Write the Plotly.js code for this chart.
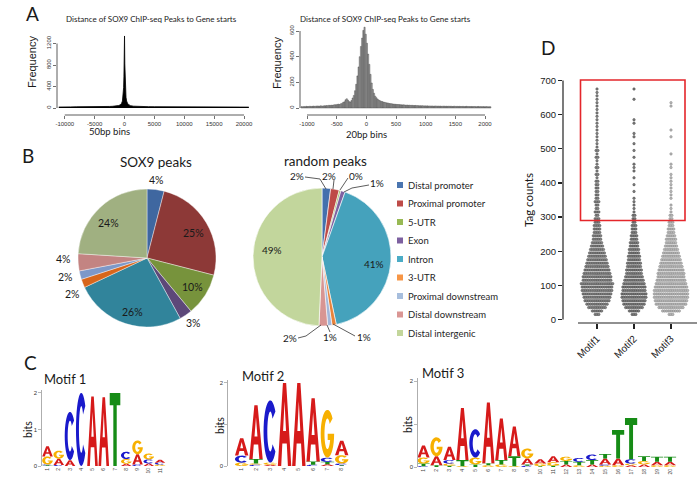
<!DOCTYPE html>
<html><head><meta charset="utf-8">
<script src="https://cdn.plot.ly/plotly-3.0.1.min.js"></script>
<style>html,body{margin:0;padding:0;background:#fff}#chart{width:697px;height:477px}</style>
</head><body><div id="chart"></div>
<script>
const W = 697, H = 477;
const px = x => x / W, py = y => 1 - y / H;

// ---------- Panel A data ----------
const tssX50 = [-11000,-10500,-10000,-9500,-9000,-8000,-7000,-6000,-5000,-4000,-3000,-2500,-2000,-1500,-1000,-750,-500,-350,-250,-150,-100,-50,0,50,100,150,250,350,500,750,1000,1500,2000,3000,4000,5000,6000,7000,8000,9000,10000,11000,12000,13000,14000,15000,16000,17000,18000,19000,20000,20800];
const tssFreq50 = [18,22,20,24,21,23,22,25,24,26,27,29,32,36,45,58,85,130,210,380,580,880,1340,820,530,340,200,130,88,58,44,34,30,27,25,24,23,22,24,21,22,20,21,22,19,21,20,19,20,18,19,17];
const bin20Start = -1090, bin20Width = 20;
const tssFreq20 = [
 11,9,12,10,13,11,12,14,12,13,15,13,14,16,15,14,17,16,15,18,17,19,18,21,20,
 22,21,24,26,25,28,30,27,33,36,
 44,48,64,72,62,50,47,58,78,98,
 135,185,250,320,400,480,545,605,630,575,
 505,420,340,262,195,145,115,92,80,70,
 62,57,52,50,46,44,41,40,38,35,
 34,33,31,30,29,28,27,27,26,25,
 24,25,23,22,23,21,22,20,21,20,
 19,20,18,19,17,18,17,18,16,17,
 16,17,15,16,15,16,14,15,16,14,
 15,14,15,13,14,15,13,14,13,14,
 13,14,12,13,14,12,13,12,13,12,
 12,13,11,12,13,11,12,11,12,11,
 11,12,10,11,12,10,11,10,11,10,
 10,11,9,10,10];
const ticks50 = [-10000,-5000,0,5000,10000,15000,20000];
const ticks20 = [-1000,-500,0,500,1000,1500,2000];

// ---------- Panel B data ----------
const regionLabels = ['Distal promoter','Proximal promoter','5-UTR','Exon','Intron','3-UTR','Proximal downstream','Distal downstream','Distal intergenic'];
const sox9Share = [4,25,10,3,26,2,2,4,24];
const randomShare = [2,2,0.4,1,41,1,1,2,49];
const sox9Colors = ['#3F67A0','#8D3937','#77933C','#5D4879','#31849B','#D8661B','#7D98C8','#C38482','#A0B081'];
const randomColors = ['#4470AD','#BE4A47','#9BBB59','#7E62A1','#45A2BC','#E9833A','#A3B7DA','#D89593','#C2D69C'];
const legendColors = ['#4A75B0','#BE4B48','#98B954','#7D60A0','#4BACC6','#F79646','#A7BEDD','#DA9694','#C3D69B'];

// ---------- Panel C data (stacks bottom -> top, bits) ----------
const motif1 = [
 [['T',0.02],['C',0.02],['G',0.22],['A',0.28]],
 [['C',0.03],['A',0.17],['G',0.22]],
 [['A',0.16],['C',1.32]],
 [['C',2.0]],
 [['A',1.9]],
 [['A',1.88]],
 [['T',2.0]],
 [['A',0.06],['G',0.13],['C',0.2]],
 [['C',0.04],['A',0.28],['G',0.38]],
 [['A',0.07],['C',0.11],['G',0.16]],
 [['G',0.04],['C',0.05],['A',0.08]]
];
const motif2 = [
 [['G',0.08],['C',0.17],['A',0.42]],
 [['C',0.03],['G',0.03],['T',0.11],['A',1.29]],
 [['A',0.03],['G',0.05],['C',1.5]],
 [['A',2.0]],
 [['A',2.0]],
 [['C',0.03],['T',0.08],['A',1.52]],
 [['A',0.04],['T',0.06],['C',0.1],['G',1.15]],
 [['T',0.02],['C',0.04],['G',0.2],['A',0.35]]
];
const motif3 = [
 [['C',0.02],['T',0.06],['G',0.14],['A',0.28]],
 [['T',0.04],['A',0.21],['G',0.44]],
 [['T',0.03],['G',0.05],['C',0.08],['A',0.31]],
 [['G',0.02],['T',0.14],['A',1.21]],
 [['T',0.06],['G',0.16],['C',0.66]],
 [['G',0.04],['T',0.05],['A',1.41]],
 [['G',0.06],['T',0.1],['A',0.97]],
 [['G',0.02],['T',0.23],['A',0.69]],
 [['C',0.03],['T',0.03],['A',0.14],['G',0.23]],
 [['T',0.02],['G',0.06],['A',0.1]],
 [['T',0.03],['G',0.08],['A',0.14]],
 [['A',0.06],['T',0.08],['G',0.1]],
 [['G',0.04],['T',0.08],['C',0.09]],
 [['A',0.06],['T',0.1],['C',0.13]],
 [['G',0.03],['C',0.03],['A',0.14],['T',0.1]],
 [['G',0.04],['A',0.16],['T',0.66]],
 [['A',0.04],['G',0.04],['C',0.1],['T',0.96]],
 [['A',0.06],['G',0.08],['T',0.11]],
 [['G',0.04],['A',0.08],['T',0.12]],
 [['G',0.04],['A',0.08],['T',0.12]]
];

// ---------- Panel D data (points per 10-tag bin) ----------
const tagBins = [15,25,35,45,55,65,75,85,95,105,115,125,135,145,155,165,175,185,195,205,215,225,235,245,255,265,275,285,295,305,315,325,335,345,355,365,375,385,395,405,415,425,435,445,455,465,475,485,495,505,515,525,535,545,555,565,575,585,595,605,615,625,635,645,655,665,675,685];
const motifNames = ['Motif1','Motif2','Motif3'];
const motif1Counts = [3,6,10,12,14,15,16,17,17,18, 16,16,15,14,13,12,11,10,9,8, 7,6,5,5,4,4,4,3,3,2, 3,2,2,3,2,2,2,2,2,2, 1,2,1,2,1,1,2,1,2,1, 1,1,1,1,1,1,1,1,1,1, 1,1,1,1,1,1,1,0];
const motif2Counts = [3,6,10,12,13,14,14,13,13,12, 11,10,9,9,8,8,7,7,6,6, 5,5,4,4,3,3,3,2,2,2, 1,1,1,1,1,0,1,0,1,0, 1,0,1,1,1,0,1,0,1,0, 1,0,1,1,0,0,1,1,0,0, 0,0,0,1,0,0,1,0];
const motif3Counts = [3,10,14,17,18,19,19,19,18,17, 16,15,15,14,13,12,11,10,9,8, 7,6,6,5,4,4,3,3,2,2, 1,1,1,0,1,1,1,1,1,1, 1,1,0,1,1,0,0,1,0,0, 0,0,1,0,1,0,0,0,0,0, 0,1,1,0,0,0,0,0];

// ---------- helpers ----------
function arcPts(cx, cy, rx, ry, a0, a1, n) {
  const pts = [];
  for (let k = 0; k <= n; k++) {
    const a = (a0 + (a1 - a0) * k / n) * Math.PI / 180;
    pts.push([cx + rx * Math.cos(a), cy + ry * Math.sin(a)]);
  }
  return pts;
}
const GLYPH = {
  A: [[[0,0],[0.38,1],[0.62,1],[1,0],[0.75,0],[0.665,0.27],[0.335,0.27],[0.25,0]],
      [[0.39,0.42],[0.61,0.42],[0.5,0.78]]],
  T: [[[0,1],[1,1],[1,0.83],[0.66,0.83],[0.66,0],[0.34,0],[0.34,0.83],[0,0.83]]],
  C: [arcPts(0.5,0.5,0.5,0.5,40,320,30).concat(arcPts(0.5,0.5,0.22,0.32,320,40,30))],
  G: [arcPts(0.5,0.5,0.5,0.5,40,360,30).concat([[0.52,0.5],[0.52,0.37]], arcPts(0.5,0.5,0.22,0.32,-24,-320,30))]
};
const LETTER_COLORS = {A:'#D61A1A', C:'#1A1ACB', G:'#F7B000', T:'#168C16'};
function letterShapes(stacks, xr, yr) {
  const out = [];
  stacks.forEach((stack, i) => {
    const p = i + 1; let y0 = 0;
    stack.forEach(([ch, h]) => {
      if (h >= 0.015) {
        const x0 = p - 0.47, w = 0.94;
        const path = GLYPH[ch].map(poly => 'M' + poly.map(([u, v]) =>
          (x0 + u * w).toFixed(4) + ',' + (y0 + v * h).toFixed(4)).join('L') + 'Z').join('');
        out.push({type:'path', xref:xr, yref:yr, path, fillcolor:LETTER_COLORS[ch], line:{width:0}, layer:'above'});
      }
      y0 += h;
    });
  });
  return out;
}
function swarm(counts, center, dx) {
  const xs = [], ys = [];
  counts.forEach((n, i) => {
    for (let j = 0; j < n; j++) { xs.push(center + (j - (n - 1) / 2) * dx); ys.push(tagBins[i]); }
  });
  return {xs, ys};
}
function ann(text, x, y, size, opts) {
  return Object.assign({text, x:px(x), y:py(y), xref:'paper', yref:'paper', showarrow:false,
    xanchor:'center', yanchor:'middle', borderpad:0, font:{family:'Lato, sans-serif', size, color:'#1a1a1a'}}, opts || {});
}
function polyline(pts, color, width) {
  return {type:'path', xref:'paper', yref:'paper',
    path:'M' + pts.map(([x, y]) => px(x).toFixed(5) + ',' + py(y).toFixed(5)).join('L'),
    line:{color:color || '#333', width:width || 0.8}};
}
const pctText = v => Math.round(v) + '%';

// ---------- traces ----------
const traces = [];
traces.push({type:'scatter', x:tssX50, y:tssFreq50, xaxis:'x', yaxis:'y', mode:'lines',
  line:{color:'#000', width:0.8}, fill:'tozeroy', fillcolor:'#000', hoverinfo:'skip'});
traces.push({type:'bar', x0:bin20Start, dx:bin20Width, y:tssFreq20, xaxis:'x2', yaxis:'y2',
  marker:{color:'#a3a3a3', line:{color:'#3a3a3a', width:0.4}}, hoverinfo:'skip'});
traces.push({type:'pie', labels:regionLabels, values:sox9Share, sort:false, direction:'clockwise', rotation:0,
  textinfo:'none', hoverinfo:'skip', marker:{colors:sox9Colors, line:{color:'#ffffff', width:0.4}},
  domain:{x:[px(78), px(216)], y:[py(327), py(189)]}});
traces.push({type:'pie', labels:regionLabels, values:randomShare, sort:false, direction:'clockwise', rotation:0,
  textinfo:'none', hoverinfo:'skip', marker:{colors:randomColors, line:{color:'#ffffff', width:0.6}},
  domain:{x:[px(253), px(391)], y:[py(326), py(188)]}});
const motifFill = ['#858585','#7e7e7e','#b8b8b8'];
const motifEdge = ['#404040','#3e3e3e','#808080'];
[motif1Counts, motif2Counts, motif3Counts].forEach((c, k) => {
  const s = swarm(c, k + 1, 1.85 / 37);
  traces.push({type:'scatter', mode:'markers', x:s.xs, y:s.ys, xaxis:'x6', yaxis:'y6', hoverinfo:'skip',
    marker:{size:2.5, color:motifFill[k], line:{color:motifEdge[k], width:0.45}}});
});

// ---------- axes ----------
const tickFontR = {family:'Liberation Sans, Arial, sans-serif', size:6, color:'#333'};
function rX(domain, range, tv) {
  return {domain, range, tickvals:tv, ticktext:tv.map(String), ticks:'outside', ticklen:3, tickwidth:0.7,
    tickcolor:'#333', tickfont:tickFontR, showline:false, showgrid:false, zeroline:false};
}
function rY(domain, range, tv) {
  return {domain, range, tickvals:tv, ticktext:tv.map(String), ticks:'outside', ticklen:3, tickwidth:0.7,
    tickcolor:'#333', tickfont:tickFontR, tickangle:-90, showline:false, showgrid:false, zeroline:false};
}
function logoX(domain, range, n) {
  const tv = Array.from({length:n}, (_, i) => i + 1);
  return {domain, range, tickvals:tv, ticktext:tv.map(String), ticks:'', tickangle:-90,
    tickfont:{family:'Liberation Sans, Arial, sans-serif', size:5, color:'#444'},
    showline:false, showgrid:false, zeroline:false};
}
function logoY(domain, range) {
  return {domain, range, tickvals:[0,1,2], ticktext:['0','1','2'], ticks:'outside', ticklen:3, tickwidth:0.7,
    tickcolor:'#999', tickfont:{family:'Liberation Sans, Arial, sans-serif', size:6, color:'#333'},
    showline:true, linecolor:'#9a9a9a', linewidth:0.8, showgrid:false, zeroline:false};
}

const layout = {
  width:W, height:H, margin:{l:0, r:0, t:0, b:0}, paper_bgcolor:'#fff', plot_bgcolor:'rgba(0,0,0,0)',
  showlegend:false, bargap:0,
  xaxis: Object.assign(rX([px(57), px(250)], [-11300, 21000], ticks50), {anchor:'y'}),
  yaxis: Object.assign(rY([py(115), py(30)], [-130, 1451], [0,400,800,1200]), {anchor:'x'}),
  xaxis2: Object.assign(rX([px(300), px(492)], [-1118, 2118], ticks20), {anchor:'y2'}),
  yaxis2: Object.assign(rY([py(115), py(25)], [-54.5, 647], [0,200,400,600]), {anchor:'x2'}),
  xaxis3: Object.assign(logoX([px(42), px(166)], [0.511, 11.53], motif1.length), {anchor:'y3'}),
  yaxis3: Object.assign(logoY([py(466), py(390)], [0, 2.08]), {anchor:'x3'}),
  xaxis4: Object.assign(logoX([px(228), px(352)], [0.042, 8.72], motif2.length), {anchor:'y4'}),
  yaxis4: Object.assign(logoY([py(466), py(380)], [0, 2.07]), {anchor:'x4'}),
  xaxis5: Object.assign(logoX([px(418), px(680)], [0.576, 20.77], motif3.length), {anchor:'y5'}),
  yaxis5: Object.assign(logoY([py(467), py(378)], [0, 2.07]), {anchor:'x5'}),
  xaxis6: {domain:[px(563), 1], range:[0.081, 3.703], anchor:'y6', tickvals:[1,2,3], ticktext:motifNames,
    tickangle:-45, ticks:'outside', ticklen:5, tickwidth:1.2, tickcolor:'#222',
    tickfont:{family:'Liberation Sans, Arial, sans-serif', size:10, color:'#1a1a1a'},
    showline:false, showgrid:false, zeroline:false},
  yaxis6: {domain:[py(323), py(75)], range:[-10.25, 716.1], anchor:'x6', tickvals:[0,100,200,300,400,500,600,700],
    ticks:'outside', ticklen:4, tickwidth:1.2, tickcolor:'#222',
    tickfont:{family:'Liberation Sans, Arial, sans-serif', size:9.5, color:'#1a1a1a'},
    showline:false, showgrid:false, zeroline:false},
  shapes: [], annotations: []
};

// R-style axis lines
layout.shapes.push({type:'line', xref:'x', yref:'paper', x0:ticks50[0], x1:ticks50[ticks50.length-1], y0:py(115), y1:py(115), line:{color:'#333', width:0.8}});
layout.shapes.push({type:'line', xref:'paper', yref:'y', x0:px(57), x1:px(57), y0:0, y1:1200, line:{color:'#333', width:0.8}});
layout.shapes.push({type:'line', xref:'x2', yref:'paper', x0:ticks20[0], x1:ticks20[ticks20.length-1], y0:py(115), y1:py(115), line:{color:'#333', width:0.8}});
layout.shapes.push({type:'line', xref:'paper', yref:'y2', x0:px(300), x1:px(300), y0:0, y1:600, line:{color:'#333', width:0.8}});
// Panel D axes + red box
layout.shapes.push({type:'line', xref:'paper', yref:'y6', x0:px(563), x1:px(563), y0:0, y1:700, line:{color:'#222', width:1.2}});
layout.shapes.push({type:'line', xref:'paper', yref:'paper', x0:px(578), x1:1, y0:py(323), y1:py(323), line:{color:'#222', width:1.2}});
layout.shapes.push({type:'rect', xref:'paper', yref:'paper', x0:px(580.5), x1:px(685), y0:py(220.5), y1:py(80), line:{color:'#E4262B', width:1.6}});
// Logo letters
layout.shapes.push(...letterShapes(motif1, 'x3', 'y3'));
layout.shapes.push(...letterShapes(motif2, 'x4', 'y4'));
layout.shapes.push(...letterShapes(motif3, 'x5', 'y5'));

// Legend (manual)
regionLabels.forEach((lab, i) => {
  const yc = 185 + 18.5 * i;
  layout.shapes.push({type:'rect', xref:'paper', yref:'paper', x0:px(397), x1:px(403), y0:py(yc + 3), y1:py(yc - 3),
    fillcolor:legendColors[i], line:{width:0}});
  layout.annotations.push(ann(lab, 406.5, yc, 9.5, {xanchor:'left', font:{family:'Lato, sans-serif', size:9.5, color:'#262626'}}));
});

// Pie leader lines (random peaks)
layout.shapes.push(polyline([[305,177],[320,179],[326,189]]));
layout.shapes.push(polyline([[334,180],[333,189]]));
layout.shapes.push(polyline([[348,178],[340,190]]));
layout.shapes.push(polyline([[369,185],[352,188],[344,192]]));
layout.shapes.push(polyline([[355,336],[333,324]]));
layout.shapes.push(polyline([[330,332],[327,325]]));
layout.shapes.push(polyline([[298,338],[306,336],[321,325]]));

// Annotations
const A = layout.annotations;
A.push(ann('A', 32, 13, 19));
A.push(ann('B', 28, 155, 19));
A.push(ann('C', 30, 362, 19));
A.push(ann('D', 548, 48, 19));
A.push(ann('Distance of SOX9 ChIP-seq Peaks to Gene starts', 151, 19, 8));
A.push(ann('Distance of SOX9 ChIP-seq Peaks to Gene starts', 385, 19, 8));
A.push(ann('Frequency', 32, 62, 11, {textangle:-90, font:{family:'Liberation Sans, Arial, sans-serif', size:11, color:'#1a1a1a'}}));
A.push(ann('Frequency', 277, 63, 11, {textangle:-90, font:{family:'Liberation Sans, Arial, sans-serif', size:11, color:'#1a1a1a'}}));
A.push(ann('50bp bins', 110, 132, 9.5));
A.push(ann('20bp bins', 367, 135, 9.5));
A.push(ann('SOX9 peaks', 156, 162, 13.5));
A.push(ann('random peaks', 325, 161, 13.5));

const sox9Pos = [[156,180],[193,233],[192,287],[193,323],[132,312],[72,294],[65,277],[63,259],[109,223]];
sox9Share.forEach((v, i) => A.push(ann(pctText(v), sox9Pos[i][0], sox9Pos[i][1], 10.5)));
const randPos = [[297,176],[329,176],[356,176],[377,183],[374,264],[364,337],[330,337],[290,338],[272,250]];
randomShare.forEach((v, i) => A.push(ann(pctText(v), randPos[i][0], randPos[i][1], 10)));

A.push(ann('Motif 1', 65, 379, 13));
A.push(ann('Motif 2', 263, 376, 13));
A.push(ann('Motif 3', 443, 373, 13));
A.push(ann('bits', 28, 429, 10.5, {textangle:-90}));
A.push(ann('bits', 220, 425, 10.5, {textangle:-90}));
A.push(ann('bits', 408, 425, 10.5, {textangle:-90}));
A.push(ann('Tag counts', 528, 200, 11.5, {textangle:-90}));

Plotly.newPlot('chart', traces, layout, {staticPlot:true, displayModeBar:false});
</script>
</body></html>
